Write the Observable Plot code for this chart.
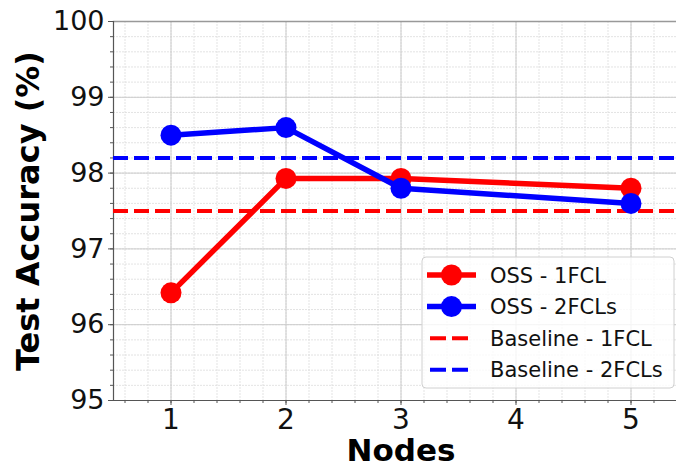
<!DOCTYPE html>
<html>
<head>
<meta charset="utf-8">
<script src="https://cdn.jsdelivr.net/npm/d3@7"></script>
<script src="https://cdn.jsdelivr.net/npm/@observablehq/plot@0.6"></script>
<style>
  html, body { margin: 0; padding: 0; background: #fff; overflow: hidden; }
  #wrap { position: relative; width: 676px; height: 470px; overflow: hidden; }
  #wrap svg { font-family: "DejaVu Sans", sans-serif; max-width: none !important; }
  #legend { position: absolute; left: 0; top: 0; }
</style>
</head>
<body>
<div id="wrap"></div>
<script>
// ---- data ----
const nodes1 = [1, 2, 3, 5];
const oss1FCL = [96.42, 97.93, 97.93, 97.80];
const nodes2 = [1, 2, 3, 5];
const oss2FCLs = [98.50, 98.60, 97.80, 97.60];
const baseline1FCL = 97.5;
const baseline2FCLs = 98.2;
const xTicks = [1, 2, 3, 4, 5];
const yTicks = [95, 96, 97, 98, 99, 100];
const seriesNames = ["OSS - 1FCL", "OSS - 2FCLs", "Baseline - 1FCL", "Baseline - 2FCLs"];
const seriesColors = ["#ff0000", "#0000ff", "#ff0000", "#0000ff"];
const seriesDashed = [false, false, true, true];
const xLabel = "Nodes";
const yLabel = "Test Accuracy (%)";

const xMinor = d3.range(6, 55, 2).map(v => v / 10);
const yMinor = d3.range(950, 1001, 2).map(v => v / 10);

const red = seriesColors[0], blue = seriesColors[1];
const font = "DejaVu Sans";

const chart = Plot.plot({
  width: 688,
  height: 470,
  marginLeft: 113,
  marginRight: 0,
  marginTop: 21,
  marginBottom: 70,
  style: { fontFamily: font, background: "transparent", maxWidth: "none" },
  x: { domain: [0.5, 5.5], axis: null },
  y: { domain: [95, 100], axis: null },
  marks: [
    // minor grid
    Plot.gridX(xMinor, { stroke: "#dcdcdc", strokeOpacity: 1, strokeWidth: 0.8, strokeDasharray: "2,1" }),
    Plot.gridY(yMinor, { stroke: "#dcdcdc", strokeOpacity: 1, strokeWidth: 0.8, strokeDasharray: "2,1" }),
    // major grid
    Plot.gridX(xTicks, { stroke: "#cccccc", strokeOpacity: 1, strokeWidth: 1 }),
    Plot.gridY(yTicks, { stroke: "#cccccc", strokeOpacity: 1, strokeWidth: 1 }),
    // frame
    Plot.frame({ anchor: "top", stroke: "#999", strokeWidth: 1.5 }),
    Plot.frame({ anchor: "left", stroke: "#555", strokeWidth: 1.2 }),
    Plot.frame({ anchor: "bottom", stroke: "#555", strokeWidth: 1.2 }),
    // minor ticks
    Plot.axisX(xMinor, { tickSize: 3, text: null, label: null, stroke: "#555" }),
    Plot.axisY(yMinor, { tickSize: 3, text: null, label: null, stroke: "#555" }),
    // major axes
    Plot.axisX(xTicks, { tickSize: 5, tickPadding: 4, fontSize: 28, label: null, stroke: "#555", fill: "#111", tickFormat: d => String(d) }),
    Plot.axisY(yTicks, { tickSize: 5, tickPadding: 4, fontSize: 27, label: null, stroke: "#555", fill: "#111", tickFormat: d => String(d) }),
    // baselines
    Plot.ruleY([baseline1FCL], { stroke: red, strokeWidth: 4, strokeDasharray: "15,6" }),
    Plot.ruleY([baseline2FCLs], { stroke: blue, strokeWidth: 4, strokeDasharray: "15,6" }),
    // OSS lines
    Plot.line(nodes1.map((n, i) => ({ x: n, y: oss1FCL[i] })), { x: "x", y: "y", stroke: red, strokeWidth: 5.5 }),
    Plot.dot(nodes1.map((n, i) => ({ x: n, y: oss1FCL[i] })), { x: "x", y: "y", fill: red, r: 10.5 }),
    Plot.line(nodes2.map((n, i) => ({ x: n, y: oss2FCLs[i] })), { x: "x", y: "y", stroke: blue, strokeWidth: 5.5 }),
    Plot.dot(nodes2.map((n, i) => ({ x: n, y: oss2FCLs[i] })), { x: "x", y: "y", fill: blue, r: 10.5 }),
    // axis titles
    Plot.text([yLabel], { text: d => d, frameAnchor: "left", dx: -85, rotate: -90, fontSize: 32, fontWeight: "bold", fill: "#000", lineAnchor: "middle", textAnchor: "middle" }),
    Plot.text([xLabel], { text: d => d, frameAnchor: "bottom", dy: 51, fontSize: 31, fontWeight: "bold", fill: "#000", lineAnchor: "middle", textAnchor: "middle" })
  ]
});
document.getElementById("wrap").appendChild(chart);

// ---- legend overlay ----
const lg = d3.select("#wrap").append("svg")
  .attr("id", "legend").attr("width", 676).attr("height", 470)
  .style("font-family", font);
const bx = 422, by = 257, bw = 252, bh = 131;
lg.append("rect").attr("x", bx).attr("y", by).attr("width", bw).attr("height", bh)
  .attr("rx", 4).attr("fill", "#fff").attr("fill-opacity", 0.8)
  .attr("stroke", "#d0d0d0").attr("stroke-width", 1);
seriesNames.forEach((name, i) => {
  const cy = 275 + i * 31.6;
  const g = lg.append("g");
  if (seriesDashed[i]) {
    g.append("line").attr("x1", 430).attr("x2", 470).attr("y1", cy).attr("y2", cy)
      .attr("stroke", seriesColors[i]).attr("stroke-width", 4).attr("stroke-dasharray", "16,6");
  } else {
    g.append("line").attr("x1", 427).attr("x2", 476).attr("y1", cy).attr("y2", cy)
      .attr("stroke", seriesColors[i]).attr("stroke-width", 5.5);
    g.append("circle").attr("cx", 451.5).attr("cy", cy).attr("r", 10.5).attr("fill", seriesColors[i]);
  }
  g.append("text").attr("x", 490).attr("y", cy).attr("dy", "0.36em")
    .attr("font-size", 21).attr("fill", "#111").text(name);
});
</script>
</body>
</html>
